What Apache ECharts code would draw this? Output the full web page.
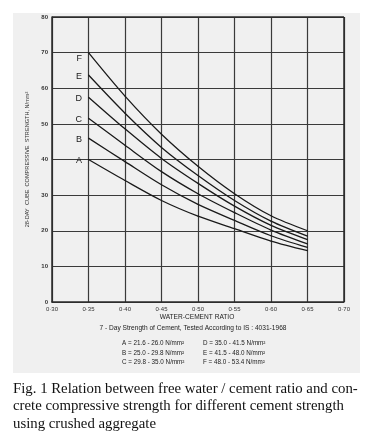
<!DOCTYPE html>
<html><head><meta charset="utf-8">
<script src="https://cdn.jsdelivr.net/npm/echarts@6/dist/echarts.min.js"></script>
<style>html,body{margin:0;padding:0;background:#fff}#c{width:370px;height:445px}</style>
</head><body><div id="c"></div>
<script>
const ratios = [0.35, 0.40, 0.45, 0.50, 0.55, 0.60, 0.65];
const curveNames = ['A', 'B', 'C', 'D', 'E', 'F'];
const curveA = [40.0, 34.1, 28.5, 24.1, 20.6, 17.1, 14.4];
const curveB = [46.0, 39.4, 32.9, 27.4, 22.9, 18.6, 15.3];
const curveC = [51.6, 44.0, 36.6, 30.4, 25.1, 20.2, 16.3];
const curveD = [57.5, 48.6, 40.3, 33.3, 26.9, 21.5, 17.5];
const curveE = [63.7, 53.0, 43.4, 35.5, 28.5, 22.7, 18.5];
const curveF = [70.0, 57.8, 47.1, 38.1, 30.4, 24.2, 20.0];
const curves = [curveA, curveB, curveC, curveD, curveE, curveF];
const legendLeft = ['A = 21.6 - 26.0 N/mm²', 'B = 25.0 - 29.8 N/mm²', 'C = 29.8 - 35.0 N/mm²'];
const legendRight = ['D = 35.0 - 41.5 N/mm²', 'E = 41.5 - 48.0 N/mm²', 'F = 48.0 - 53.4 N/mm²'];
const captionLines = [
  'Fig. 1 Relation between free water / cement ratio and con-',
  'crete compressive strength for different cement strength',
  'using crushed aggregate'
];

const chart = echarts.init(document.getElementById('c'));
const ink = '#2a2a2a';
const series = curves.map((vals, i) => ({
  type: 'line',
  name: curveNames[i],
  data: vals.map((v, j) => {
    const p = { value: [ratios[j], v] };
    if (j === 0) {
      p.label = {
        show: true, position: 'left', formatter: curveNames[i],
        offset: [-1, curveNames[i] === 'F' ? 6 : 1],
        fontFamily: 'Liberation Sans', fontSize: 9, color: '#1a1a1a'
      };
    }
    return p;
  }),
  smooth: 0.3,
  symbol: 'circle',
  symbolSize: 1,
  showSymbol: true,
  itemStyle: { color: '#1a1a1a' },
  lineStyle: { color: '#1a1a1a', width: 1.3 },
  z: 5,
  silent: true
}));

const graphics = [
  { type: 'rect', shape: { x: 13, y: 13, width: 347, height: 360 }, style: { fill: '#f0f0f0' }, z: -10 },
  { type: 'text', x: 193, y: 328, style: { text: '7 - Day Strength of Cement, Tested According to IS : 4031-1968', fontFamily: 'Liberation Sans', fontSize: 6.6, fill: '#222', textAlign: 'center', textVerticalAlign: 'middle' } },
  { type: 'text', x: 197, y: 317, style: { text: 'WATER-CEMENT RATIO', fontFamily: 'Liberation Sans', fontSize: 6.6, fill: '#222', textAlign: 'center', textVerticalAlign: 'middle' } }
];
const rowY = [343, 353, 362];
legendLeft.forEach((t, i) => graphics.push({ type: 'text', x: 122, y: rowY[i], style: { text: t, fontFamily: 'Liberation Sans', fontSize: 6.3, fill: '#222', textVerticalAlign: 'middle' } }));
legendRight.forEach((t, i) => graphics.push({ type: 'text', x: 203, y: rowY[i], style: { text: t, fontFamily: 'Liberation Sans', fontSize: 6.3, fill: '#222', textVerticalAlign: 'middle' } }));
const capY = [389, 406.5, 424];
captionLines.forEach((t, i) => graphics.push({ type: 'text', x: 13, y: capY[i], style: { text: t, fontFamily: 'Liberation Serif', fontSize: 14.8, fill: '#111', textVerticalAlign: 'middle' } }));

chart.setOption({
  animation: false,
  backgroundColor: '#ffffff',
  grid: { left: 52, right: 26, top: 17, bottom: 143, show: false },
  xAxis: {
    type: 'value', min: 0.30, max: 0.70, interval: 0.05,
    axisLine: { show: true, lineStyle: { color: ink, width: 1.5 } },
    axisTick: { show: false },
    axisLabel: { formatter: v => v.toFixed(2).replace('.', '·'), fontFamily: 'Liberation Sans', fontSize: 6, color: '#333', margin: 4, showMinLabel: true, showMaxLabel: true },
    splitLine: { show: true, lineStyle: { color: '#3a3a3a', width: 1.2 } }
  },
  yAxis: {
    type: 'value', min: 0, max: 80, interval: 10,
    name: '28-DAY  CUBE  COMPRESSIVE  STRENGTH, N/mm²',
    nameLocation: 'middle', nameGap: 12, nameRotate: 90,
    nameTextStyle: { fontFamily: 'Liberation Sans', fontSize: 5.6, color: '#333' },
    axisLine: { show: true, lineStyle: { color: ink, width: 1.5 } },
    axisTick: { show: false },
    axisLabel: { fontFamily: 'Liberation Sans', fontSize: 6, fontWeight: 'bold', color: '#333', margin: 4 },
    splitLine: { show: true, lineStyle: { color: '#3a3a3a', width: 1.2 } }
  },
  graphic: graphics,
  series: series.concat([{
    type: 'line', data: [], silent: true,
    markLine: {
      silent: true, symbol: 'none', label: { show: false },
      lineStyle: { color: ink, width: 1.5, type: 'solid' },
      data: [{ xAxis: 0.70 }, { yAxis: 80 }]
    }
  }])
});
</script></body></html>
